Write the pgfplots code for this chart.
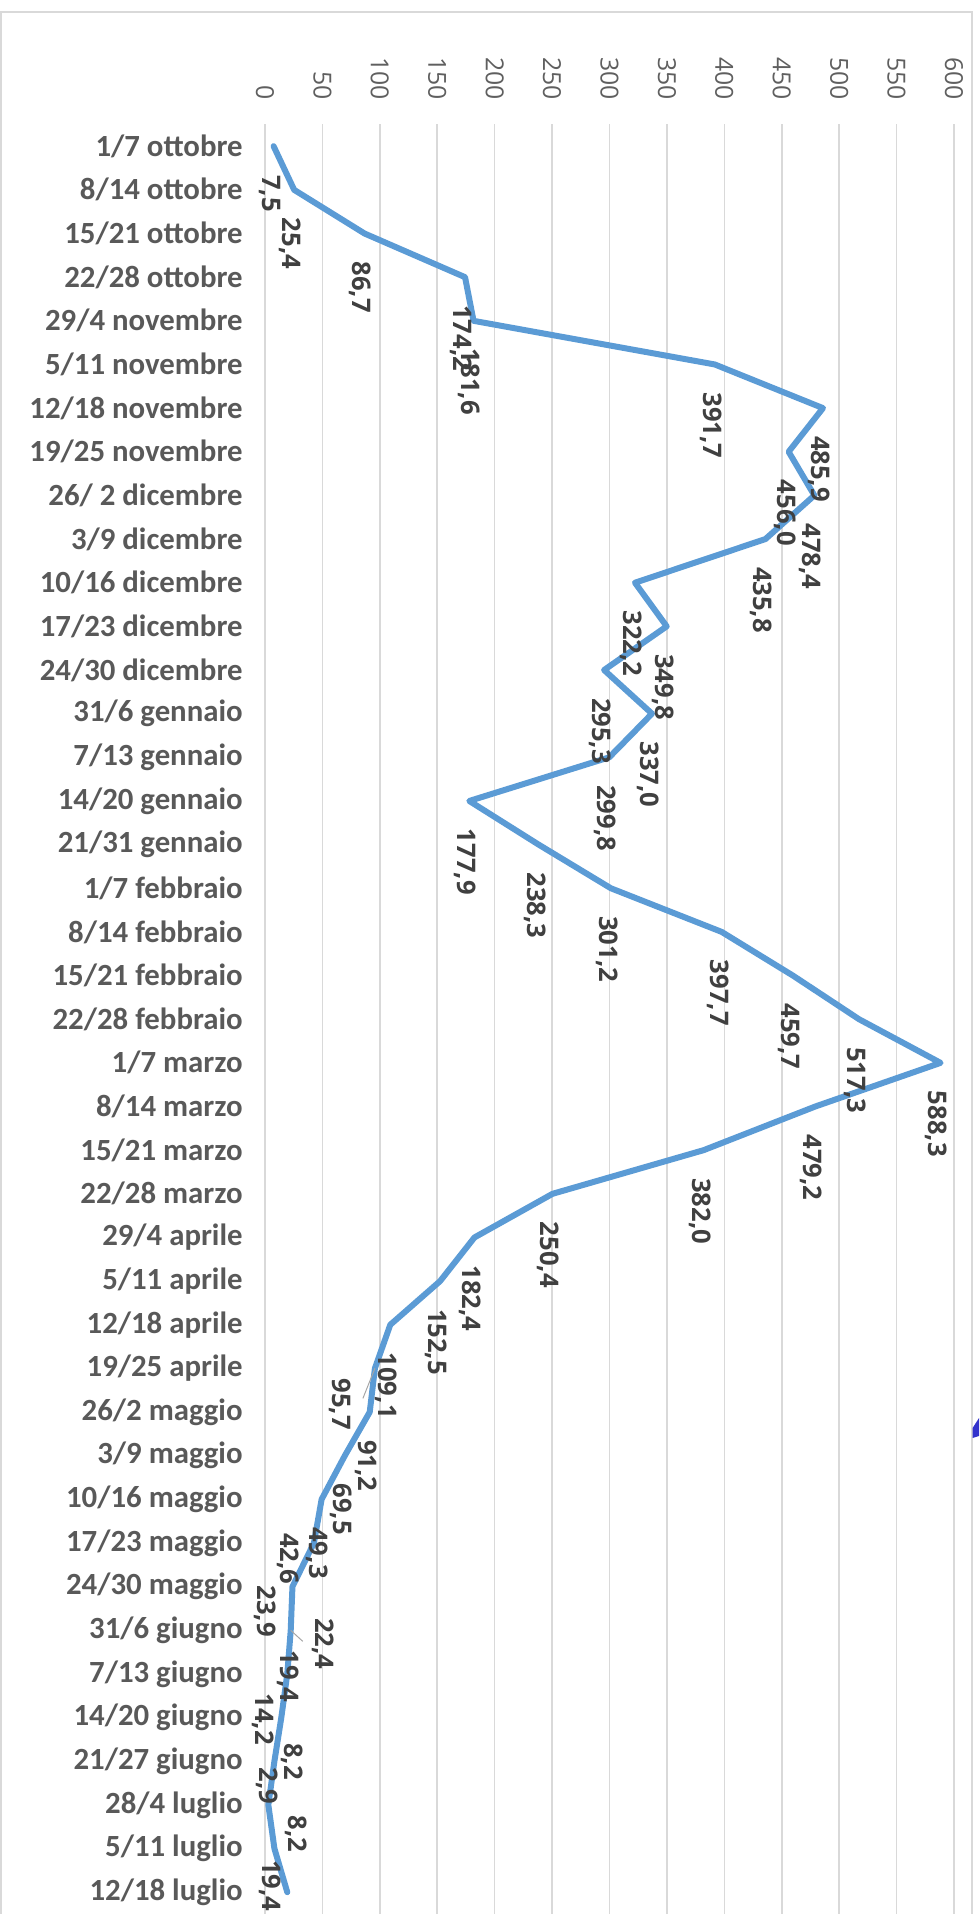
\documentclass[border=0pt]{standalone}
\usepackage{pgfplots}
\pgfplotsset{compat=1.18}
\usepackage{pgfplotstable}
\usepackage{fontspec}
\setmainfont{Carlito}
\newfontfamily\numfont{Open Sans}
\definecolor{linec}{HTML}{5B9BD5}
\definecolor{gridc}{HTML}{D9D9D9}
\definecolor{catc}{HTML}{595959}
\definecolor{tickc}{HTML}{5F5F5F}
\definecolor{labc}{HTML}{404040}
\definecolor{artc}{HTML}{3333CC}

% i = week index, v = value, dx/dy = label offset in reference pixels (dy downward)
\pgfplotstableread{
i v dx dy
0 7.5 -4 26
1 25.4 -4 25
2 86.7 -4 25
3 174.2 -4 25
4 181.6 -4 25
5 391.7 -4 25
6 485.9 -4 25
7 456.0 -4 25
8 478.4 -4 25
9 435.8 -4 25
10 322.2 -4 25
11 349.8 -4 25
12 295.3 -4 25
13 337.0 -4 25
14 299.8 -4 25
15 177.9 -4 25
16 238.3 -4 25
17 301.2 -4 25
18 397.7 -4 25
19 459.7 -4 25
20 517.3 -4 25
21 588.3 -4 25
22 479.2 -4 25
23 382.0 -4 25
24 250.4 -4 25
25 182.4 -4 25
26 152.5 -4 25
27 109.1 -4 25
28 95.7 -35 7
29 91.2 -4 25
30 69.5 -4 25
31 49.3 -4 25
32 42.6 -26 -13
33 23.9 -27 -4
34 22.4 32 -15
35 19.4 1 -26
36 14.2 -18 -27
37 8.2 18 -21
38 2.9 -1 -40
39 8.2 22 -36
40 19.4 -17 -35
}\data

\begin{document}
\begin{tikzpicture}[x=1pt,y=1pt]
\path[use as bounding box] (0,0) rectangle (489.5,957);
\draw[gridc, line width=0.8pt] (0.4,-5) -- (0.4,951) -- (486,951) -- (486,-5);
\fill[artc] (486.3,243) -- (489.5,248) -- (489.5,239) -- (486.3,238) -- cycle;
\begin{axis}[
  at={(132.5pt,0pt)}, anchor=south west,
  scale only axis, width=344.5pt, height=894.8pt,
  xmin=0, xmax=600, ymin=-0.5, ymax=40.5, y dir=reverse,
  xtick={0,50,...,600}, ytick={0,...,40},
  xticklabel={\pgfmathprintnumber{\tick}},
  yticklabels={1/7 ottobre,8/14 ottobre,15/21 ottobre,22/28 ottobre,29/4 novembre,5/11 novembre,12/18 novembre,19/25 novembre,26/ 2 dicembre,3/9 dicembre,10/16 dicembre,17/23 dicembre,24/30 dicembre,31/6 gennaio,7/13 gennaio,14/20 gennaio,21/31 gennaio,1/7 febbraio,8/14 febbraio,15/21 febbraio,22/28 febbraio,1/7 marzo,8/14 marzo,15/21 marzo,22/28 marzo,29/4 aprile,5/11 aprile,12/18 aprile,19/25 aprile,26/2 maggio,3/9 maggio,10/16 maggio,17/23 maggio,24/30 maggio,31/6 giugno,7/13 giugno,14/20 giugno,21/27 giugno,28/4 luglio,5/11 luglio,12/18 luglio},
  xticklabel pos=upper,
  axis line style={draw=none},
  major tick length=0pt,
  xmajorgrids, grid style={gridc, line width=0.8pt},
  /pgf/number format/assume math mode=true,
  xticklabel style={yshift=12pt, rotate=-90, anchor=east, inner sep=0pt, font=\numfont\fontsize{12.4pt}{15pt}\selectfont, text=tickc},
  yticklabel style={xshift=-11pt, anchor=east, inner sep=0pt, font=\bfseries\fontsize{15.4pt}{18pt}\selectfont, text=catc},
  clip=false,
]
\addplot[color=linec, line width=3pt, line join=round, line cap=round,
  point meta=x,
  visualization depends on={0.5*\thisrow{dx} \as \ldx},
  visualization depends on={-0.5*\thisrow{dy} \as \ldy},
  nodes near coords={\pgfmathprintnumber[fixed,fixed zerofill,precision=1,use comma]{\pgfplotspointmeta}},
  every node near coord/.append style={xshift=\ldx pt, yshift=\ldy pt, rotate=-90, anchor=west, inner sep=0pt, font=\numfont\bfseries\fontsize{12.8pt}{15pt}\selectfont, text=labc},
] table[x=v, y=i] {\data};
\draw[color=gray!70, line width=0.5pt] ([shift={(-6pt,-15pt)}]axis cs:95.7,28) -- (axis cs:95.7,28);
\draw[color=gray!70, line width=0.5pt] (axis cs:22.4,34) -- ([shift={(6pt,-5.5pt)}]axis cs:22.4,34);
\end{axis}
\end{tikzpicture}
\end{document}
